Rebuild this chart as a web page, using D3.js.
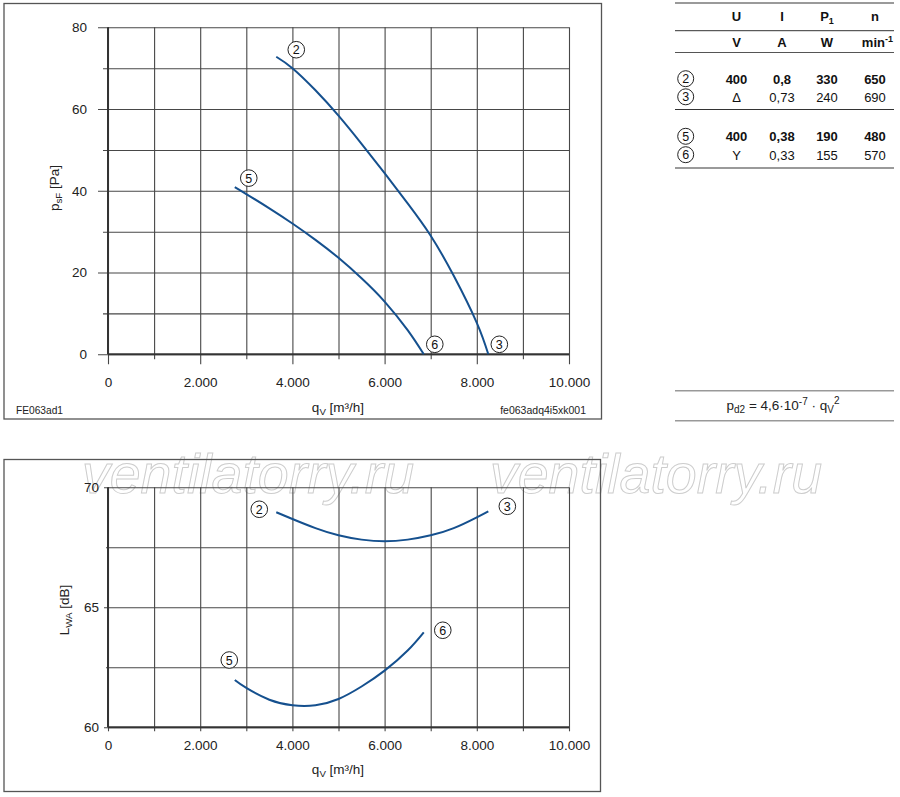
<!DOCTYPE html>
<html>
<head>
<meta charset="utf-8">
<script src="https://cdn.jsdelivr.net/npm/d3@7"></script>
<style>
  body { margin: 0; background: #fff; }
  svg { display: block; font-family: "Liberation Sans", Arial, sans-serif; }
</style>
</head>
<body>
<div id="chart"></div>
<script>
// ticks
var flowTicks = [0, 2000, 4000, 6000, 8000, 10000];
var flowMinorTicks = [1000, 3000, 5000, 7000, 9000];
var pressureTicks = [0, 20, 40, 60, 80];
var pressureMinorTicks = [10, 30, 50, 70];
var soundTicks = [60, 65, 70];
var soundMinorTicks = [62.5, 67.5];

// curves: [qV m³/h, value]
var pressure23 = [[3650, 72.8], [4000, 70], [4500, 64.6], [5000, 58.4], [5500, 51.5], [6000, 44.3],
                  [6500, 36.9], [7000, 29], [7500, 19.2], [8000, 7.7], [8250, 0]];
var pressure56 = [[2750, 40.9], [3000, 39.2], [3500, 35.7], [4000, 32], [4500, 28], [5000, 23.6],
                  [5500, 18.6], [6000, 12.9], [6500, 5.9], [6850, 0]];
var sound23 = [[3650, 68.96], [4000, 68.68], [4500, 68.3], [5000, 68.0], [5500, 67.82], [6000, 67.75],
               [6500, 67.82], [7000, 68.0], [7500, 68.3], [8000, 68.75], [8250, 69.0]];
var sound56 = [[2750, 61.97], [3000, 61.64], [3500, 61.15], [4000, 60.92], [4500, 60.92],
               [5000, 61.18], [5500, 61.7], [6000, 62.36], [6500, 63.2], [6850, 63.96]];

// table
var tableHeads = ["U", "I", "P", "n"];
var tableUnits = ["V", "A", "W", "min"];
var tableIds = ["2", "3", "5", "6"];
var tableRows = [["400", "0,8", "330", "650"],
                 ["Δ", "0,73", "240", "690"],
                 ["400", "0,38", "190", "480"],
                 ["Y", "0,33", "155", "570"]];
var tableBold = [true, false, true, false];

var W = 900, H = 797;
var blue = "#15508e";
var gridColor = "#474747";

var svg = d3.select("#chart").append("svg")
  .attr("width", W)
  .attr("height", H);

var de = d3.formatLocale({decimal: ",", thousands: ".", grouping: [3], currency: ["", ""]});
var flowFormat = de.format(",");

// watermark (behind everything)
[82, 490].forEach(function(wx) {
  svg.append("text").attr("x", wx).attr("y", 493)
    .attr("font-size", 55.5).attr("font-style", "italic")
    .attr("fill", "none").attr("stroke", "#cdcdcd").attr("stroke-width", 1)
    .text("ventilatorry.ru");
});

// frames
svg.append("rect").attr("x", 4).attr("y", 3.5).attr("width", 597.5).attr("height", 415.5)
  .attr("fill", "none").attr("stroke", "#555").attr("stroke-width", 1.3);
svg.append("rect").attr("x", 4).attr("y", 459.5).attr("width", 596.5).attr("height", 332)
  .attr("fill", "none").attr("stroke", "#555").attr("stroke-width", 1.3);

function styleAxis(g) {
  g.select(".domain").remove();
  g.selectAll("line").attr("stroke", gridColor).attr("stroke-width", 1.1);
  g.selectAll("text").attr("fill", "#222").attr("font-size", 13.5)
    .attr("font-family", "'Liberation Sans', Arial, sans-serif");
}

function drawGrid(x, y, o) {
  var x0 = x.range()[0], x1 = x.range()[1];
  var y0 = y.range()[0], y1 = y.range()[1];
  var pw = x1 - x0, ph = y0 - y1;

  svg.append("g").attr("transform", `translate(${x0 - o.yMin},0)`)
    .call(d3.axisLeft(y).tickValues(o.yMinor).tickSize(-(pw + o.yMin)).tickFormat(""))
    .call(styleAxis);
  svg.append("g").attr("transform", `translate(${x0 - o.yMaj},0)`)
    .call(d3.axisLeft(y).tickValues(o.yTicks).tickSize(-(pw + o.yMaj)).tickPadding(o.yPad).tickFormat(d3.format("d")))
    .call(styleAxis);
  svg.append("g").attr("transform", `translate(0,${y0 + o.xMin})`)
    .call(d3.axisBottom(x).tickValues(flowMinorTicks).tickSize(-(ph + o.xMin)).tickFormat(""))
    .call(styleAxis);
  svg.append("g").attr("transform", `translate(0,${y0 + o.xMaj})`)
    .call(d3.axisBottom(x).tickValues(flowTicks).tickSize(-(ph + o.xMaj)).tickPadding(o.xPad).tickFormat(flowFormat))
    .call(styleAxis);

  // heavier axis lines
  svg.append("line").attr("x1", x0).attr("x2", x0).attr("y1", y1).attr("y2", y0)
    .attr("stroke", "#333").attr("stroke-width", 2);
  svg.append("line").attr("x1", x0).attr("x2", x1).attr("y1", y0).attr("y2", y0)
    .attr("stroke", "#333").attr("stroke-width", 2);
}

function drawCurve(x, y, data) {
  var line = d3.line().x(d => x(d[0])).y(d => y(d[1])).curve(d3.curveNatural);
  svg.append("path").datum(data).attr("d", line)
    .attr("fill", "none").attr("stroke", blue).attr("stroke-width", 2);
}

function circledNumber(cx, cy, t, r) {
  var g = svg.append("g").attr("transform", `translate(${cx},${cy})`);
  g.append("circle").attr("r", r || 8.3).attr("fill", "#fff").attr("stroke", "#222").attr("stroke-width", 1);
  g.append("text").attr("text-anchor", "middle").attr("dy", "0.36em")
    .attr("font-size", 12.5).attr("fill", "#111").text(t);
}

function labelAt(x, y, p, dx, dy, t) {
  circledNumber(x(p[0]) + dx, y(p[1]) + dy, t);
}

// text with a subscript part
function subText(sel, base, sub, rest, size) {
  sel.append("tspan").text(base);
  sel.append("tspan").attr("font-size", size * 0.72).attr("dy", size * 0.25).text(sub);
  sel.append("tspan").attr("dy", -size * 0.25).text(rest);
}

// ---------- top chart: pressure ----------
var xP = d3.scaleLinear().domain([0, 10000]).range([108, 569]);
var yP = d3.scaleLinear().domain([0, 80]).range([354.3, 27.3]);

drawGrid(xP, yP, {
  yTicks: pressureTicks, yMinor: pressureMinorTicks, yMaj: 10, yMin: 5, yPad: 11,
  xMaj: 10, xMin: 5, xPad: 13.4
});
drawCurve(xP, yP, pressure23);
drawCurve(xP, yP, pressure56);
labelAt(xP, yP, pressure23[0], 20, -7, "2");
labelAt(xP, yP, pressure56[0], 14, -9, "5");
labelAt(xP, yP, pressure56[pressure56.length - 1], 11, -10, "6");
labelAt(xP, yP, pressure23[pressure23.length - 1], 11, -10, "3");

svg.append("text").attr("transform", "translate(59,188) rotate(-90)")
  .attr("text-anchor", "middle").attr("font-size", 13.5).attr("fill", "#222")
  .call(subText, "p", "sF", " [Pa]", 13.5);
svg.append("text").attr("x", 338).attr("y", 412)
  .attr("text-anchor", "middle").attr("font-size", 13.5).attr("fill", "#222")
  .call(subText, "q", "V", " [m³/h]", 13.5);
svg.append("text").attr("x", 16).attr("y", 414).attr("font-size", 10.2).attr("fill", "#222").text("FE063ad1");
svg.append("text").attr("x", 586).attr("y", 414).attr("text-anchor", "end")
  .attr("font-size", 10.5).attr("fill", "#222").text("fe063adq4i5xk001");

// ---------- bottom chart: sound power ----------
var xS = d3.scaleLinear().domain([0, 10000]).range([108, 569]);
var yS = d3.scaleLinear().domain([60, 70]).range([727.3, 487.3]);

drawGrid(xS, yS, {
  yTicks: soundTicks, yMinor: soundMinorTicks, yMaj: 4, yMin: 2, yPad: 5,
  xMaj: 4, xMin: 4, xPad: 9.1
});
drawCurve(xS, yS, sound23);
drawCurve(xS, yS, sound56);
labelAt(xS, yS, sound23[0], -17, -3, "2");
labelAt(xS, yS, sound23[sound23.length - 1], 19, -5, "3");
labelAt(xS, yS, sound56[0], -5.5, -20, "5");
labelAt(xS, yS, sound56[sound56.length - 1], 19, -2, "6");

svg.append("text").attr("transform", "translate(69,610) rotate(-90)")
  .attr("text-anchor", "middle").attr("font-size", 13.5).attr("fill", "#222")
  .call(subText, "L", "WA", " [dB]", 13.5);
svg.append("text").attr("x", 338).attr("y", 774)
  .attr("text-anchor", "middle").attr("font-size", 13.5).attr("fill", "#222")
  .call(subText, "q", "V", " [m³/h]", 13.5);

// ---------- table ----------
var colX = [736.5, 782, 827, 875];
var tl = 675, tr = 894;
function rule(y, color, w) {
  svg.append("line").attr("x1", tl).attr("x2", tr).attr("y1", y).attr("y2", y)
    .attr("stroke", color).attr("stroke-width", w);
}
rule(3, "#9a9a9a", 2);
rule(30.7, "#333", 1);
rule(52.5, "#555", 1);
rule(109.5, "#333", 1);
rule(168, "#9a9a9a", 2);

var head = svg.append("g").attr("font-size", 13).attr("font-weight", "bold").attr("fill", "#111");
tableHeads.forEach(function(h, i) {
  var t = head.append("text").attr("x", colX[i]).attr("y", 16).attr("dy", "0.35em").attr("text-anchor", "middle");
  if (h === "P") {
    t.append("tspan").text("P");
    t.append("tspan").attr("font-size", 9).attr("dy", 3).text("1");
  } else {
    t.text(h);
  }
});
tableUnits.forEach(function(u, i) {
  var t = head.append("text").attr("x", i === 3 ? 893 : colX[i]).attr("y", 42.5).attr("dy", "0.35em")
    .attr("text-anchor", i === 3 ? "end" : "middle");
  t.append("tspan").text(u);
  if (u === "min") t.append("tspan").attr("font-size", 9).attr("dy", -5).text("-1");
});

var rowY = [78.7, 96.8, 136.3, 154.7];
tableRows.forEach(function(row, r) {
  circledNumber(685.7, rowY[r], tableIds[r], 8);
  row.forEach(function(v, i) {
    svg.append("text").attr("x", colX[i]).attr("y", rowY[r]).attr("dy", "0.37em")
      .attr("text-anchor", "middle").attr("font-size", 13)
      .attr("font-weight", tableBold[r] ? "bold" : "normal").attr("fill", "#111").text(v);
  });
});

// pd2 formula
rule(390.7, "#999", 1.5);
rule(420.7, "#999", 1.5);
var f = svg.append("text").attr("x", 783).attr("y", 410).attr("text-anchor", "middle")
  .attr("font-size", 13.5).attr("fill", "#222");
f.append("tspan").text("p");
f.append("tspan").attr("font-size", 10).attr("dy", 3).text("d2");
f.append("tspan").attr("dy", -3).text(" = 4,6·10");
f.append("tspan").attr("font-size", 10).attr("dy", -5).text("-7");
f.append("tspan").attr("dy", 5).text(" · q");
f.append("tspan").attr("font-size", 10).attr("dy", 3).text("V");
f.append("tspan").attr("font-size", 10).attr("dy", -9).text("2");
</script>
</body>
</html>
